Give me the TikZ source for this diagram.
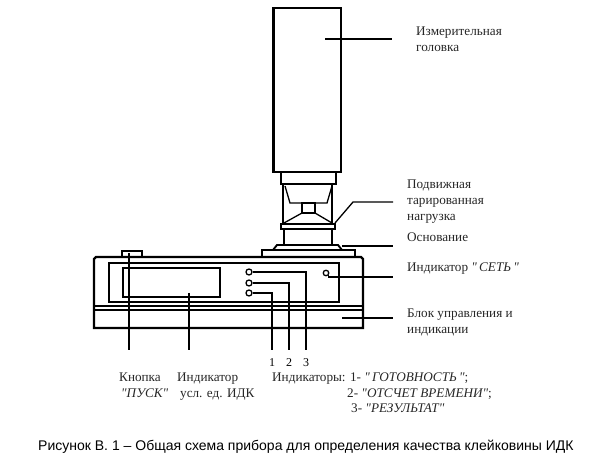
\documentclass[tikz,border=0pt]{standalone}
\usepackage{fontspec}
\setmainfont{Liberation Serif}
\newfontfamily\labfont{Liberation Serif}
\newfontfamily\capfont{Liberation Sans}
\begin{document}
\begin{tikzpicture}[x=1pt,y=-1pt,line join=miter,
  part/.style={draw=black,line width=1.9pt},
  leader/.style={draw=black,line width=1.6pt},
  thinpart/.style={draw=black,line width=1.3pt},
  lamp/.style={circle,draw=black,line width=1.3pt,inner sep=0pt,minimum size=6pt},
  lab/.style={anchor=base west,inner sep=0pt,font=\labfont\fontsize{13.2pt}{15pt}\selectfont,text=black!85},
  digit/.style={anchor=base,inner sep=0pt,font=\labfont\fontsize{12pt}{14pt}\selectfont},
  caption/.style={anchor=base west,inner sep=0pt,font=\capfont\fontsize{14pt}{16pt}\selectfont}]
\useasboundingbox (0,0) rectangle (613,470);
% head
\draw[part,line width=2.4pt] (273.5,8) rectangle (341,172);
\draw[part] (281,172) rectangle (336,184);
% frame and load
\draw[part] (283,184) -- (283,224);
\draw[part] (332,184) -- (332,224);
\draw[thinpart] (285,186) -- (290,203) -- (327,203) -- (332,186);
\draw[thinpart] (302,203) rectangle (315,213);
\draw[thinpart] (284,223) -- (302,213) (332,223) -- (315,213);
\draw[part] (281,224) rectangle (335,229);
\draw[part] (284,229) -- (284,245);
\draw[part] (332,229) -- (332,245);
% base
\draw[part] (273,250) -- (277,245) -- (338,245) -- (342,250);
\draw[part] (262,257) -- (262,250) -- (355,250) -- (355,257);
% control unit
\draw[part,line width=2.3pt] (94,328) -- (94,259) -- (96,257) -- (361,257) -- (363,259) -- (363,328) -- cycle;
\draw[part,line width=2.3pt] (109,263) rectangle (339,302);
\draw[part] (123,268) rectangle (220,297);
\draw[thinpart] (94,306) -- (363,306);
\draw[part] (94,310) -- (363,310);
\draw[part] (122,257) -- (122,251) -- (142,251) -- (142,257);
% lamps
\node[lamp] (l3) at (249,272) {};
\node[lamp] (l2) at (249,283) {};
\node[lamp] (l1) at (249,293) {};
\node[lamp,minimum size=5.5pt] (ls) at (326,273) {};
% leaders
\coordinate (hA) at (325,39); \coordinate (hB) at (392,39);
\draw[leader] (hA) -- (hB);
\coordinate (nA) at (335,223); \coordinate (nB) at (353,202); \coordinate (nC) at (393,202);
\draw[thinpart] (nA) -- (nB) -- (nC);
\coordinate (oA) at (342,246); \coordinate (oB) at (393,246);
\draw[thinpart] (oA) -- (oB);
\coordinate (sB) at (393,277);
\draw[leader] (ls.south east) |- (sB);
\coordinate (bA) at (342,318); \coordinate (bB) at (393,318);
\draw[leader] (bA) -- (bB);
\coordinate (kA) at (129,253); \coordinate (kB) at (129,350);
\draw[leader] (kA) -- (kB);
\coordinate (dA) at (189,293); \coordinate (dB) at (189,350);
\draw[leader] (dA) -- (dB);
\coordinate (e1) at (272,350); \coordinate (e2) at (289,350); \coordinate (e3) at (306,350);
\draw[thinpart] (l1) -- (l1 -| e1) -- (e1);
\draw[thinpart] (l2) -- (l2 -| e2) -- (e2);
\draw[thinpart] (l3) -- (l3 -| e3) -- (e3);
% labels
\node[lab] (t1) at (416,36) {Измерительная};
\node[lab] (t2) at (416,52) {головка};
\node[lab] (t3) at (407,189) {Подвижная};
\node[lab] (t4) at (407,205) {тарированная};
\node[lab] (t5) at (407,221) {нагрузка};
\node[lab] (t6) at (407,242) {Основание};
\node[lab] (t7) at (407,272) {Индикатор \textit{"\,СЕТЬ\,"}};
\node[lab] (t8) at (407,318) {Блок управления и};
\node[lab] (t9) at (407,334) {индикации};
\node[digit] (n1) at (272,366) {1};
\node[digit] (n2) at (289,366) {2};
\node[digit] (n3) at (306,366) {3};
\node[lab] (k1) at (119,381) {Кнопка};
\node[lab] (k2) at (121,397) {\textit{"ПУСК"}};
\node[lab] (i1) at (177,381) {Индикатор};
\node[lab] (i2) at (180,397) {усл. ед. ИДК};
\node[lab] (g1) at (272,381) {Индикаторы: 1- \textit{"\,ГОТОВНОСТЬ\,"};};
\node[lab] (g2) at (347,397) {2- \textit{"ОТСЧЕТ ВРЕМЕНИ"};};
\node[lab] (g3) at (351,412) {3- \textit{"РЕЗУЛЬТАТ"}};
\node[caption] (cap) at (38,450) {Рисунок В. 1 – Общая схема прибора для определения качества клейковины ИДК};
\end{tikzpicture}
\end{document}
